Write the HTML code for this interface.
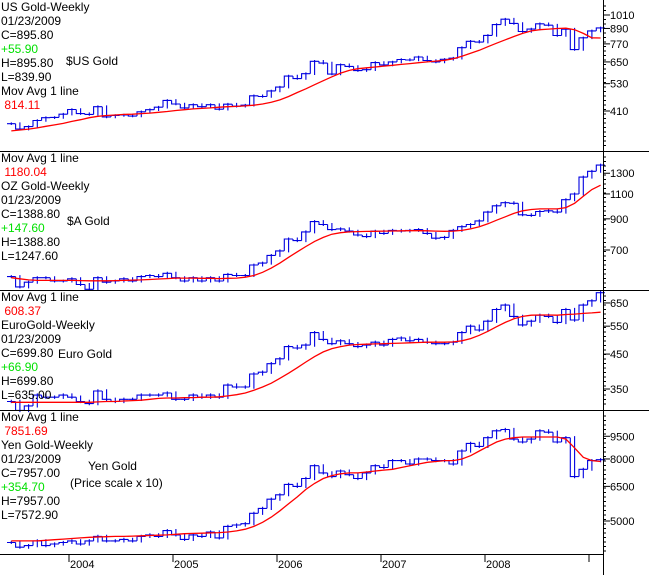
<!DOCTYPE html>
<html><head><meta charset="utf-8"><style>
body{margin:0;background:#fff}
svg{display:block;font-family:"Liberation Sans",sans-serif}
</style></head><body>
<svg id="c" width="649" height="575" viewBox="0 0 649 575"></svg>
<script>
// monthly closes May 2003 .. Jan 2009
const usClose=[364,346,354,375,385,386,398,416, 400,397,427,388,393,395,391,407,415,425,453,438, 422,435,427,435,417,437,429,433,473,470,495,513, 569,556,582,654,643,580,633,623,599,604,646,632, 650,665,662,681,659,650,666,673,743,789,783,834, 923,971,933,865,885,930,918,833,884,730,815,870, 895];
const usMA=[340,343,346,350,355,360,365,372, 378,385,390,393,395,397,398,400,402,405,408,412, 415,418,420,422,425,427,428,430,433,438,445,455, 470,488,505,525,545,565,585,600,610,615,620,625, 630,635,640,645,650,655,660,670,685,705,725,750, 775,800,825,850,870,880,885,890,892,880,850,815, 814];
const audClose=[565,520,540,560,560,545,545,555, 530,510,560,540,545,555,545,565,570,565,580,560, 545,560,545,560,545,575,570,570,620,630,670,695, 765,755,810,880,860,825,830,815,790,780,815,800, 820,815,820,825,800,770,775,820,845,860,885,950, 1000,1025,1020,930,925,955,960,950,1050,1100,1260,1320, 1388];
const audMA=[560,555,550,548,548,548,548,548, 547,546,546,546,547,548,549,550,552,554,556,558, 558,558,557,557,556,557,558,562,570,585,605,630, 660,690,720,750,775,795,805,810,812,813,814,815, 816,817,818,818,817,815,814,815,820,830,845,865, 890,915,940,960,970,975,975,975,985,1020,1080,1140, 1180];
const eurClose=[320,300,310,335,330,330,335,330, 320,315,345,325,320,325,325,335,335,335,340,325, 325,335,330,335,330,360,355,355,390,395,420,435, 475,470,480,525,500,485,495,485,475,480,490,480, 500,505,495,500,490,485,485,490,525,550,535,570, 620,640,590,555,570,595,590,565,620,575,640,660, 700];
const eurMA=[318,318,318,318,318,318,318,318, 318,318,319,320,320,321,322,323,325,327,328,328, 329,329,330,330,331,333,336,340,347,355,365,378, 392,408,425,442,457,468,475,480,482,483,484,485, 486,487,488,489,490,490,490,491,495,503,515,530, 548,565,580,590,595,596,596,595,598,600,603,605, 608];
const yenClose=[4250,4100,4150,4300,4150,4200,4250,4300, 4200,4300,4450,4300,4300,4350,4300,4450,4500,4450,4650,4500, 4350,4500,4450,4600,4400,4800,4850,4900,5300,5500,5900,6100, 6600,6500,6900,7600,7200,7000,7300,7100,6900,7200,7600,7500, 7900,7900,7700,8000,8000,7900,7900,7700,8500,9000,8800,9400, 9900,10000,9300,9100,9300,9900,9800,9100,9400,7000,7400,7900, 7957];
const yenMA=[4300,4300,4300,4300,4320,4340,4360,4380, 4400,4420,4430,4440,4450,4450,4460,4470,4480,4490,4500,4520, 4540,4550,4560,4570,4580,4600,4640,4700,4800,4950,5150,5400, 5700,6000,6350,6650,6900,7050,7150,7200,7200,7250,7300,7350, 7400,7500,7600,7700,7800,7850,7900,7900,8000,8200,8500,8800, 9100,9300,9400,9450,9450,9450,9450,9450,9300,8700,8100,7900, 7850];
const usTicks=[410,530,650,770,890,1010];
const audTicks=[700,900,1100,1300];
const eurTicks=[350,450,550,650];
const yenTicks=[5000,6500,8000,9500];
const years=["2004","2005","2006","2007","2008"];

const svg=document.getElementById('c');
const NS='http://www.w3.org/2000/svg';
function mk(tag,attrs,parent){const e=document.createElementNS(NS,tag);for(const k in attrs)e.setAttribute(k,attrs[k]);(parent||svg).appendChild(e);return e;}
function xOf(i){const t=2003.375+i/12+0.07;return 69+(t-2004)*104;}
function xYear(y){return 69+(y-2004)*104;}
const panels=[
 {name:'us',close:usClose,ma:usMA,ticks:usTicks,ref:410,refY:111,k:106.5,top:0,bot:151},
 {name:'aud',close:audClose,ma:audMA,ticks:audTicks,ref:700,refY:250,k:124,top:151,bot:290},
 {name:'euro',close:eurClose,ma:eurMA,ticks:eurTicks,ref:350,refY:389,k:139,top:290,bot:410},
 {name:'yen',close:yenClose,ma:yenMA,ticks:yenTicks,ref:5000,refY:521,k:132,top:410,bot:554}
];
panels.forEach(p=>{
 const y=v=>p.refY-p.k*Math.log(v/p.ref);
 const g=mk('g',{});
 
 
 let d='';
 for(let i=0;i<p.close.length;i++){
  const x0=xOf(i)-4.3,x1=xOf(i)+4.3;
  const prev=i?p.close[i-1]:p.close[0];
  const hi=Math.max(prev,p.close[i])*1.012,lo=Math.min(prev,p.close[i])*0.988;
  d+=`M${x0.toFixed(1)},${y(prev).toFixed(1)}V${y(p.close[i]).toFixed(1)}H${x1.toFixed(1)}`;
  d+=`M${xOf(i).toFixed(1)},${y(hi).toFixed(1)}V${y(lo).toFixed(1)}`;
 }
 const bars=mk('path',{d:d,stroke:'#0000e0','stroke-width':1.1,fill:'none'},g);
 
 
 let md='';
 p.ma.forEach((v,i)=>{md+=(i?'L':'M')+xOf(i).toFixed(1)+','+y(v).toFixed(1);});
 const ma=mk('path',{d:md,stroke:'#ff0000','stroke-width':1.3,fill:'none'},g);
 
 
 for(let yy=p.top+6;yy<p.bot-2;yy+=4.5){mk('line',{x1:603,x2:606,y1:yy,y2:yy,stroke:'#000'},g);}
 p.ticks.forEach(t=>{
  const ty=y(t);
  mk('line',{x1:603,x2:610,y1:ty,y2:ty,stroke:'#000'},g);
  const tx=mk('text',{x:610,y:ty+4,'font-size':11},g);
  tx.textContent=t;
  
  
 });
});
mk('line',{x1:603.5,x2:603.5,y1:0,y2:575,stroke:'#000'});
[151.5,290.5,410.5].forEach(v=>mk('line',{x1:0,x2:649,y1:v,y2:v,stroke:'#000'}));
mk('line',{x1:0,x2:603,y1:554.5,y2:554.5,stroke:'#000'});
years.forEach(yr=>{
 const x=xYear(+yr);
 mk('line',{x1:x,x2:x,y1:554,y2:562,stroke:'#000'});
 const t=mk('text',{x:x+1,y:568,'font-size':11});
 t.textContent=yr;
 
 
});
mk('line',{x1:xYear(2009),x2:xYear(2009),y1:554,y2:562,stroke:'#000'});
</script>
<div style="position:absolute;left:0;top:0;width:600px;height:575px;font:12px 'Liberation Sans',sans-serif;line-height:14px;pointer-events:none">
<div style="position:absolute;left:1px;top:0">US Gold-Weekly<br>01/23/2009<br>C=895.80<br><span style="color:#00e000">+55.90</span><br>H=895.80<br>L=839.90<br>Mov Avg 1 line<br><span style="color:#f00">&nbsp;814.11</span></div>
<div style="position:absolute;left:66px;top:54px">$US Gold</div>
<div style="position:absolute;left:1px;top:151px">Mov Avg 1 line<br><span style="color:#f00">&nbsp;1180.04</span><br>OZ Gold-Weekly<br>01/23/2009<br>C=1388.80<br><span style="color:#00e000">+147.60</span><br>H=1388.80<br>L=1247.60</div>
<div style="position:absolute;left:67px;top:214px">$A Gold</div>
<div style="position:absolute;left:1px;top:290px">Mov Avg 1 line<br><span style="color:#f00">&nbsp;608.37</span><br>EuroGold-Weekly<br>01/23/2009<br>C=699.80<br><span style="color:#00e000">+66.90</span><br>H=699.80<br>L=635.00</div>
<div style="position:absolute;left:58px;top:347px">Euro Gold</div>
<div style="position:absolute;left:1px;top:410px">Mov Avg 1 line<br><span style="color:#f00">&nbsp;7851.69</span><br>Yen Gold-Weekly<br>01/23/2009<br>C=7957.00<br><span style="color:#00e000">+354.70</span><br>H=7957.00<br>L=7572.90</div>
<div style="position:absolute;left:88px;top:459px">Yen Gold</div>
<div style="position:absolute;left:70px;top:476px">(Price scale x 10)</div>
</div>
</body></html>
